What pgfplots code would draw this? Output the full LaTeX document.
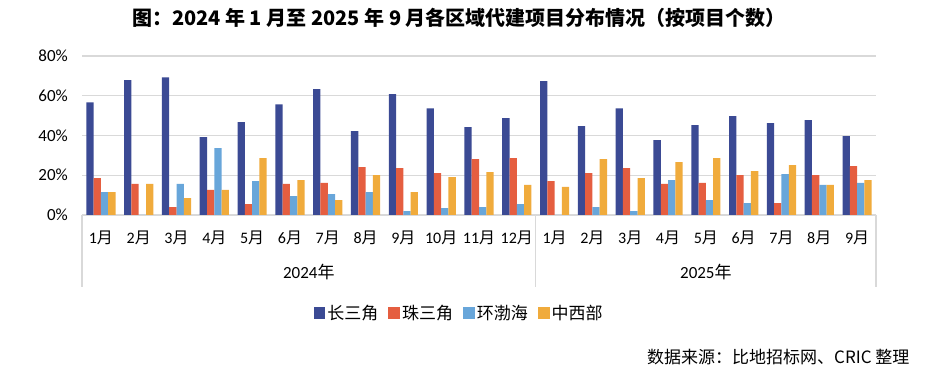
\documentclass[border=0pt]{standalone}
\usepackage{fontspec}
\setmainfont{Carlito}
\newfontfamily\cjk{Noto Sans CJK SC}
\usepackage{pgfplots}
\usepackage{pgfplotstable}
\pgfplotsset{compat=1.18}
\definecolor{cA}{RGB}{59,74,148}
\definecolor{cB}{RGB}{229,94,64}
\definecolor{cC}{RGB}{104,166,218}
\definecolor{cD}{RGB}{240,171,60}
\definecolor{gridc}{RGB}{217,217,217}
\pgfplotstableread{
x A B C D
0 56.7 18.6 11.5 11.5
1 67.8 15.6 0 15.6
2 69.3 4.0 15.6 8.5
3 39.2 12.6 33.6 12.6
4 46.7 5.5 17.1 28.6
5 55.7 15.6 9.5 17.6
6 63.3 16.1 10.5 7.5
7 42.2 24.1 11.5 20.1
8 60.8 23.6 2.0 11.5
9 53.7 21.1 3.5 19.1
10 44.2 28.1 4.0 21.6
11 48.7 28.6 5.5 15.1
12 67.3 17.1 0 14.1
13 44.7 21.1 4.0 28.1
14 53.7 23.6 2.0 18.6
15 37.7 15.6 17.6 26.6
16 45.2 16.1 7.5 28.6
17 49.7 20.1 6.0 22.1
18 46.2 6.0 20.6 25.1
19 47.7 20.1 15.1 15.1
20 39.7 24.6 16.1 17.6
}\datatable
\begin{document}
\begin{tikzpicture}[x=1pt,y=1pt]
\useasboundingbox (0,0) rectangle (945,387);
\node[font=\cjk\bfseries\fontsize{20}{23}\selectfont] at (459,369) {图：2024 年 1 月至 2025 年 9 月各区域代建项目分布情况（按项目个数）};
\node[anchor=east,font=\cjk\fontsize{17}{20}\selectfont] at (913,30) {数据来源：比地招标网、CRIC 整理};
\begin{axis}[
  at={(82pt,172pt)}, anchor=south west,
  scale only axis, width=794pt, height=159pt,
  ybar=0pt, bar width=7.3pt,
  xmin=-0.5, xmax=20.5, ymin=0, ymax=80,
  ytick={0,20,40,60,80},
  yticklabel={\pgfmathprintnumber{\tick}\%},
  /pgf/number format/assume math mode=true,
  xtick={0,...,20},
  xticklabels={1{\cjk 月},2{\cjk 月},3{\cjk 月},4{\cjk 月},5{\cjk 月},6{\cjk 月},7{\cjk 月},8{\cjk 月},9{\cjk 月},10{\cjk 月},11{\cjk 月},12{\cjk 月},1{\cjk 月},2{\cjk 月},3{\cjk 月},4{\cjk 月},5{\cjk 月},6{\cjk 月},7{\cjk 月},8{\cjk 月},9{\cjk 月}},
  axis x line*=bottom, axis y line*=left,
  y axis line style={draw=none},
  x axis line style={draw=gridc, line width=1.5pt, -},
  major tick length=0pt,
  ymajorgrids, grid style={draw=gridc, line width=1.3pt},
  yticklabel style={font=\fontsize{17}{20}\selectfont, anchor=east, inner sep=0pt, xshift=-14pt},
  xticklabel style={font=\fontsize{16}{19}\selectfont, anchor=center, inner sep=0pt, yshift=-23pt},
  clip=false,
  legend columns=4,
  legend style={at={(0.475,-0.616)}, anchor=center, draw=none, font=\cjk\fontsize{17}{20}\selectfont,
    /tikz/every even column/.append style={column sep=8pt}},
  legend image code/.code={\fill[#1] (0pt,-5.8pt) rectangle (11.7pt,5.8pt);},
]
\addplot[fill=cA, draw=none] table[x=x,y=A]{\datatable};
\addplot[fill=cB, draw=none] table[x=x,y=B]{\datatable};
\addplot[fill=cC, draw=none] table[x=x,y=C]{\datatable};
\addplot[fill=cD, draw=none] table[x=x,y=D]{\datatable};
\legend{长三角,珠三角,环渤海,中西部}
\draw[gridc, line width=1.5pt] (axis cs:-0.5,0) -- ([yshift=-72pt]axis cs:-0.5,0);
\draw[gridc, line width=1.5pt] (axis cs:11.5,0) -- ([yshift=-72pt]axis cs:11.5,0);
\draw[gridc, line width=1.5pt] (axis cs:20.5,0) -- ([yshift=-72pt]axis cs:20.5,0);
\node[font=\fontsize{17}{20}\selectfont] at ([yshift=-57pt]axis cs:5.5,0) {2024{\cjk 年}};
\node[font=\fontsize{17}{20}\selectfont] at ([yshift=-57pt]axis cs:16,0) {2025{\cjk 年}};
\end{axis}
\end{tikzpicture}
\end{document}
